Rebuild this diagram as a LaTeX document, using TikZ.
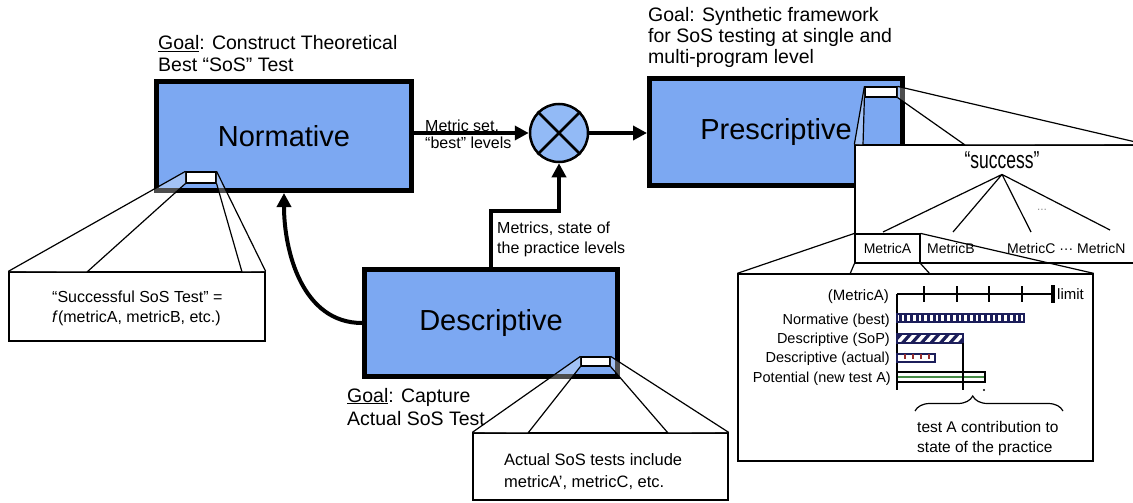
\documentclass[tikz,border=0pt]{standalone}
\usepackage{fontspec}
\setmainfont{Liberation Sans}
\usepackage{graphicx}
\usetikzlibrary{arrows.meta,decorations.pathreplacing,fit}

\definecolor{stageblue}{RGB}{124,168,242}
\definecolor{nodeblue}{RGB}{146,186,246}
\definecolor{barnavy}{RGB}{28,30,90}
\definecolor{tickred}{RGB}{150,45,45}
\definecolor{bargreen}{RGB}{70,140,70}

\begin{document}
\begin{tikzpicture}[x=1pt,y=-1pt,
  stage/.style={draw=black, line width=5pt, fill=stageblue, inner sep=0pt,
    font=\fontsize{29}{34}\selectfont},
  txt/.style={inner sep=0pt, anchor=base west},
  txtr/.style={inner sep=0pt, anchor=base east},
  goal/.style={txt, font=\fontsize{19.5}{22}\selectfont},
  flow/.style={txt, font=\fontsize{16}{18}\selectfont},
  note/.style={txt, font=\fontsize{16}{18}\selectfont},
  chartlbl/.style={txtr, font=\fontsize{14.5}{16}\selectfont},
  metric/.style={txt, font=\fontsize{14}{16}\selectfont},
  arr/.style={line width=4pt, -{Triangle[length=14pt,width=14pt]}},
  zoomrect/.style={draw=black, line width=1.2pt, fill=white, inner sep=0pt},
  zoombox/.style={draw=black, line width=1.3pt, fill=white, inner sep=0pt},
  zoomline/.style={draw=black, line width=1.2pt},
  face/.style={fill=white, fill opacity=0.3},
]
\useasboundingbox (0,0) rectangle (1133,503);
\clip (0,0) rectangle (1133,503);

% ---- the three stages
\node[stage, minimum width=255pt, minimum height=109pt] (norm) at (284,136) {Normative};
\node[stage, minimum width=253pt, minimum height=107pt] (desc) at (491,323) {Descriptive};
\node[stage, minimum width=253pt, minimum height=107pt] (presc) at (776,132) {Prescriptive};

% ---- combiner
\node[circle, draw=black, line width=2.5pt, fill=nodeblue, minimum size=58pt, inner sep=0pt] (comb) at (559,133) {};
\draw[line width=2.5pt] (comb.north west) -- (comb.south east) (comb.north east) -- (comb.south west);

% ---- flows
\draw[arr] (norm.east |- comb.west) -- (comb.west);
\draw[arr] (comb.east) -- (presc.west |- comb.east);
\draw[arr] (desc.north) -- ++(0,-56) -| (comb.south);
\draw[arr] (desc.west) to[out=180,in=-90] (norm.south);

\node[flow] (ms1) at (425,131) {Metric set,};
\node[flow] (ms2) at (425,148) {“best” levels};
\node[flow] (mp1) at (497,233) {Metrics, state of};
\node[flow] (mp2) at (497,253) {the practice levels};

% ---- goals
\node[goal] (ng1) at (158,50) {\underline{Goal}: Construct Theoretical};
\node[goal] (ng2) at (158,72) {Best “SoS” Test};
\node[goal] (dg1) at (347,402) {\underline{Goal}: Capture};
\node[goal] (dg2) at (347,425) {Actual SoS Test};
\node[goal] (pg1) at (648,22) {Goal: Synthetic framework};
\node[goal] (pg2) at (648,43) {for SoS testing at single and};
\node[goal] (pg3) at (648,64) {multi-program level};

% ---- zoom-in from the normative stage
\node[zoombox, fit={(9,272) (265,341)}] (cb1) {};
\coordinate (cb1a) at (87,272);
\coordinate (cb1b) at (242,272);
\node[zoomrect, fit={(186,172) (216,183)}] (sr1) {};
\fill[face] (sr1.north west) -- (cb1.north west) -- (cb1a) -- (sr1.south west) -- cycle;
\fill[face] (sr1.north east) -- (cb1.north east) -- (cb1b) -- (sr1.south east) -- cycle;
\draw[zoomline] (sr1.north west) -- (cb1.north west) (sr1.south west) -- (cb1a)
  (sr1.north east) -- (cb1.north east) (sr1.south east) -- (cb1b);
\node[note] (cbt1) at (52,302) {“Successful SoS Test” =};
\node[note] (cbt2) at (52,322) {\textit{f}(metricA, metricB, etc.)};

% ---- zoom-in from the descriptive stage
\node[zoombox, fit={(473,433) (728,500)}] (cb2) {};
\coordinate (cb2a) at (528,433);
\coordinate (cb2b) at (668,433);
\node[zoomrect, fit={(581,357) (610,366)}] (sr2) {};
\fill[face] (sr2.north west) -- (cb2.north west) -- (cb2a) -- (sr2.south west) -- cycle;
\fill[face] (sr2.north east) -- (cb2.north east) -- (cb2b) -- (sr2.south east) -- cycle;
\draw[zoomline] (sr2.north west) -- (cb2.north west) (sr2.south west) -- (cb2a)
  (sr2.north east) -- (cb2.north east) (sr2.south east) -- (cb2b);
\node[note, font=\fontsize{16.5}{18}\selectfont] (cbt3) at (504,465) {Actual SoS tests include};
\node[note, font=\fontsize{16.5}{18}\selectfont] (cbt4) at (504,487) {metricA’, metricC, etc.};

% ---- zoom-in from the prescriptive stage: success tree
\node[zoombox, fit={(855,145) (1145,263)}] (succ) {};
\coordinate (sca) at (863,145);
\coordinate (scb) at (965,145);
\node[zoomrect, fit={(865,87) (897,97)}] (sr3) {};
\fill[face] (sr3.north west) -- (succ.north west) -- (sca) -- (sr3.south west) -- cycle;
\fill[face] (sr3.north east) -- (succ.north east) -- (scb) -- (sr3.south east) -- cycle;
\draw[zoomline] (sr3.north west) -- (succ.north west) (sr3.south west) -- (sca)
  (sr3.north east) -- (succ.north east) (sr3.south east) -- (scb);

\node[txt, anchor=base, font=\fontsize{17.5}{20}\selectfont] (succt) at (1002,168) {\scalebox{1}[1.4]{“success”}};
\coordinate (apex) at ([yshift=-6pt]succt.south);
\coordinate (ta) at (883,232);
\coordinate (tb) at (953,232);
\coordinate (tc) at (1031,232);
\coordinate (tn) at (1110,230);
\draw[zoomline] (apex) -- (ta) (apex) -- (tb) (apex) -- (tc) (apex) -- (tn);
\node[inner sep=0pt, font=\fontsize{10}{12}\selectfont, text=black!60] (dots) at (1042,211) {···};

\node[zoomrect, fit={(855,234) (920,263)}] (ma) {};
\node[metric, anchor=base] (mat) at (887.5,253) {MetricA};
\node[metric] (mb) at (927,253) {MetricB};
\node[metric] (mc) at (1007,253) {MetricC ··· MetricN};

% ---- zoom-in from MetricA: the chart
\node[zoombox, fit={(738,274) (1093,461)}] (chart) {};
\coordinate (cha) at (850,274);
\coordinate (chb) at (930,274);
\draw[zoomline] (ma.north west) -- (chart.north west) (ma.north east) -- (chart.north east)
  (ma.south west) -- (cha) (ma.south east) -- (chb);

% axis with ticks and limit
\draw[line width=1.3pt] (897,294) -- (1053,294);
\draw[line width=1.3pt] (897,294) -- (897,390);
\foreach \x in {924,957,989,1022} \draw[line width=1.3pt] (\x,286) -- (\x,302);
\draw[line width=4pt] (1053,285) -- (1053,303);
\node[txtr, font=\fontsize{15}{17}\selectfont] (mlab) at (889,300) {(MetricA)};
\node[txt, font=\fontsize{15}{17}\selectfont] (lim) at (1057,299) {limit};

% normative (best): vertical stripes
\begin{scope}
  \clip (897,314) rectangle (1024,322);
  \foreach \x in {900,905.7,...,1022} \draw[barnavy, line width=3pt] (\x,314) -- (\x,322);
\end{scope}
\draw[barnavy, line width=1.4pt] (897,314) rectangle (1024,322);

% descriptive (SoP): diagonal stripes
\begin{scope}
  \clip (897,334) rectangle (963,343);
  \foreach \x in {893,902.5,...,970} \draw[barnavy, line width=3.2pt] (\x,343) -- (\x+8,334);
\end{scope}
\draw[barnavy, line width=1.4pt] (897,334) rectangle (963,343);

% descriptive (actual): open bar with marks
\draw[barnavy, line width=1.4pt, fill=white] (897,354) rectangle (935,362);
\foreach \x in {905,913,921,929} \draw[tickred, line width=1.3pt] (\x,354) -- (\x,358.5);

% potential (new test A)
\draw[black, line width=1.6pt, fill=white] (897,372) rectangle (985,382);
\draw[bargreen, line width=2.8pt] (898,377) -- (984,377);

% state-of-the-practice level and new test end
\draw[line width=1.2pt] (963,343) -- (963,390);
\fill (984,390) circle (1.2);

\node[chartlbl] (l1) at (890,324) {Normative (best)};
\node[chartlbl] (l2) at (890,343) {Descriptive (SoP)};
\node[chartlbl] (l3) at (890,362) {Descriptive (actual)};
\node[chartlbl] (l4) at (891,382) {Potential (new test A)};

\draw[line width=1.2pt, decorate, decoration={brace, amplitude=15pt, aspect=0.39}] (915,411) -- (1063,411);
\node[note, font=\fontsize{15.5}{18}\selectfont] (ta1) at (917,432) {test A contribution to};
\node[note, font=\fontsize{15.5}{18}\selectfont] (ta2) at (917,452) {state of the practice};

\end{tikzpicture}
\end{document}
